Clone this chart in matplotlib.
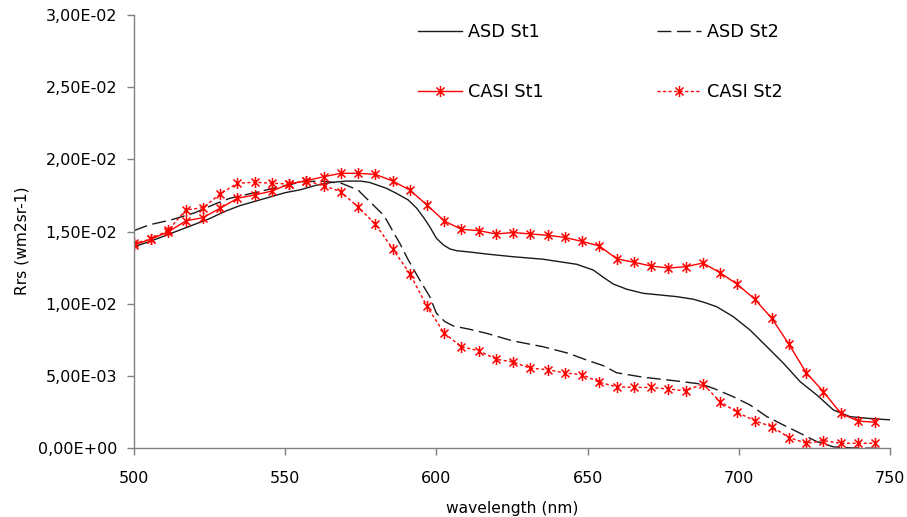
import matplotlib
matplotlib.use("Agg")
import matplotlib.pyplot as plt
from matplotlib.path import Path
from matplotlib.ticker import FuncFormatter, MultipleLocator

plt.rcParams['font.family'] = ['DejaVu Sans']

# ---------------- data ----------------
asd_st1_wl = [500, 505, 510, 515, 520, 525, 530, 535, 540, 545, 550, 555, 560, 565, 570,
              575, 578, 583.5, 586.8, 590.7, 593.5, 595.6, 597.8, 600, 602.3, 604.5, 606.7,
              611, 616.6, 625, 635.3, 646.4, 651.9, 655.2, 658.5, 663, 668.4, 679.5, 685,
              688.9, 692.7, 698.2, 703.7, 709.3, 714.8, 720.3, 725.8, 731.3, 736.8, 742.4, 750]
asd_st1 = [0.01396, 0.0143, 0.0147, 0.0151, 0.0155, 0.0159, 0.0164, 0.0168, 0.0171, 0.0174,
           0.0177, 0.0179, 0.0182, 0.0184, 0.0185, 0.0185, 0.0184, 0.0180, 0.01765, 0.01719,
           0.01662, 0.01603, 0.01534, 0.01454, 0.01408, 0.0138, 0.01368, 0.01359, 0.01345,
           0.01327, 0.01309, 0.01274, 0.01234, 0.01184, 0.01137, 0.01101, 0.01073, 0.0105,
           0.01032, 0.01008, 0.0098, 0.00911, 0.00819, 0.00703, 0.00588, 0.00461, 0.00369,
           0.00265, 0.00219, 0.00208, 0.00197]

asd_st2_wl = [500, 505, 512, 520, 527.3, 531.7, 540, 548.2, 555.9, 562, 568.6, 574.1, 576.3,
              581.9, 583.5, 586.3, 587.9, 590.7, 594.5, 597.8, 600, 602.8, 605.6, 611, 616.6,
              625, 635.3, 643.6, 649.7, 655.2, 659.6, 668.4, 679.5, 687.5, 691.6, 698.2, 703.7,
              709.3, 714.8, 720.3, 725.8, 731.3, 736.8, 746]
asd_st2 = [0.01507, 0.01547, 0.0158, 0.0163, 0.01696, 0.01731, 0.0177, 0.01811, 0.01846,
           0.0185, 0.01835, 0.01788, 0.01742, 0.01627, 0.01581, 0.01477, 0.01419, 0.01304,
           0.01165, 0.0105, 0.00935, 0.00877, 0.00847, 0.00824, 0.00796, 0.00745, 0.00703,
           0.00658, 0.00611, 0.00572, 0.00523, 0.00492, 0.00466, 0.00445, 0.00415, 0.00357,
           0.003, 0.00219, 0.00161, 0.00104, 0.00046, 0.0001, 0.00003, 0.0]

casi_wl = [500.0, 505.7, 511.4, 517.1, 522.8, 528.5, 534.2, 539.9, 545.6, 551.3, 557.0,
           562.7, 568.4, 574.1, 579.8, 585.5, 591.2, 596.9, 602.6, 608.3, 614.0, 619.7,
           625.4, 631.1, 636.8, 642.5, 648.2, 653.9, 659.6, 665.3, 671.0, 676.7, 682.4,
           688.1, 693.8, 699.5, 705.2, 710.9, 716.6, 722.3, 728.0, 733.7, 739.4, 745.1]
casi_st1 = [0.01407, 0.01449, 0.01500, 0.01574, 0.01597, 0.01662, 0.01731, 0.01754, 0.01781,
            0.01830, 0.01853, 0.01880, 0.01904, 0.01904, 0.01897, 0.01851, 0.01788, 0.01684,
            0.01574, 0.01516, 0.01507, 0.01484, 0.01494, 0.01484, 0.01475, 0.01460, 0.01432,
            0.01401, 0.01312, 0.01288, 0.01262, 0.01248, 0.01257, 0.01283, 0.01216, 0.01135,
            0.01034, 0.00900, 0.00720, 0.00523, 0.00392, 0.00242, 0.00189, 0.00180]
casi_st2 = [0.01419, 0.01449, 0.01511, 0.01650, 0.01666, 0.01761, 0.01835, 0.01842, 0.01835,
            0.01830, 0.01853, 0.01818, 0.01777, 0.01670, 0.01553, 0.01382, 0.01210, 0.00982,
            0.00796, 0.00703, 0.00676, 0.00617, 0.00597, 0.00554, 0.00545, 0.00521, 0.00510,
            0.00457, 0.00426, 0.00422, 0.00421, 0.00410, 0.00398, 0.00446, 0.00323, 0.00249,
            0.00191, 0.00150, 0.00074, 0.00035, 0.00053, 0.00035, 0.00035, 0.00035]

labels = ["ASD St1", "ASD St2", "CASI St1", "CASI St2"]
x_ticks = [500, 550, 600, 650, 700, 750]

# ---------------- figure ----------------
fig = plt.figure(figsize=(9.07, 5.17), dpi=100)
ax = fig.add_axes([134 / 907, 1 - 448.3 / 517, (890 - 134) / 907, (448.3 - 15) / 517])

# Excel-like asterisk marker: X plus vertical bar
d = 0.72
star = Path([(0, -1), (0, 1), (-d, -d), (d, d), (-d, d), (d, -d)],
            [Path.MOVETO, Path.LINETO, Path.MOVETO, Path.LINETO, Path.MOVETO, Path.LINETO])

l1, = ax.plot(asd_st1_wl, asd_st1, color='#1a1a1a', lw=1.0, label=labels[0])
l2, = ax.plot(asd_st2_wl, asd_st2, color='#1a1a1a', lw=1.0, dashes=(10, 4), label=labels[1])
l3, = ax.plot(casi_wl, casi_st1, color='#ff0000', lw=1.0, marker=star, markersize=8,
              markeredgewidth=1.1, markeredgecolor='#ff0000', label=labels[2])
l4, = ax.plot(casi_wl, casi_st2, color='#ff0000', lw=1.0, dashes=(2.2, 1.8), marker=star,
              markersize=8, markeredgewidth=1.1, markeredgecolor='#ff0000', label=labels[3])

ax.set_xlim(500, 750)
ax.set_ylim(0, 0.03)
ax.set_xticks(x_ticks)
ax.yaxis.set_major_locator(MultipleLocator(0.005))
ax.yaxis.set_major_formatter(FuncFormatter(lambda v, p: f"{v:.2E}".replace('.', ',')))

for s in ['top', 'right']:
    ax.spines[s].set_visible(False)
for s in ['left', 'bottom']:
    ax.spines[s].set_color('#808080')
    ax.spines[s].set_linewidth(1.0)
ax.tick_params(axis='both', direction='out', length=5, width=1, color='#808080',
               labelsize=11.5, labelcolor='black')
ax.tick_params(axis='y', pad=7)
ax.tick_params(axis='x', pad=11)

ax.set_xlabel("wavelength (nm)", fontsize=11.2, labelpad=11)
ax.set_ylabel("Rrs (wm2sr-1)", fontsize=11.2)
ax.yaxis.set_label_coords(-0.1376, 0.478)

leg = fig.legend([l1, l3, l2, l4], [labels[0], labels[2], labels[1], labels[3]],
                 ncol=2, loc='upper left', bbox_to_anchor=(418 / 907, 1 - 23 / 517),
                 frameon=False, fontsize=12.7, handlelength=2.5, handletextpad=0.34,
                 columnspacing=6.4, labelspacing=2.4, borderpad=0, borderaxespad=0)

fig.savefig("out.png", dpi=100)
